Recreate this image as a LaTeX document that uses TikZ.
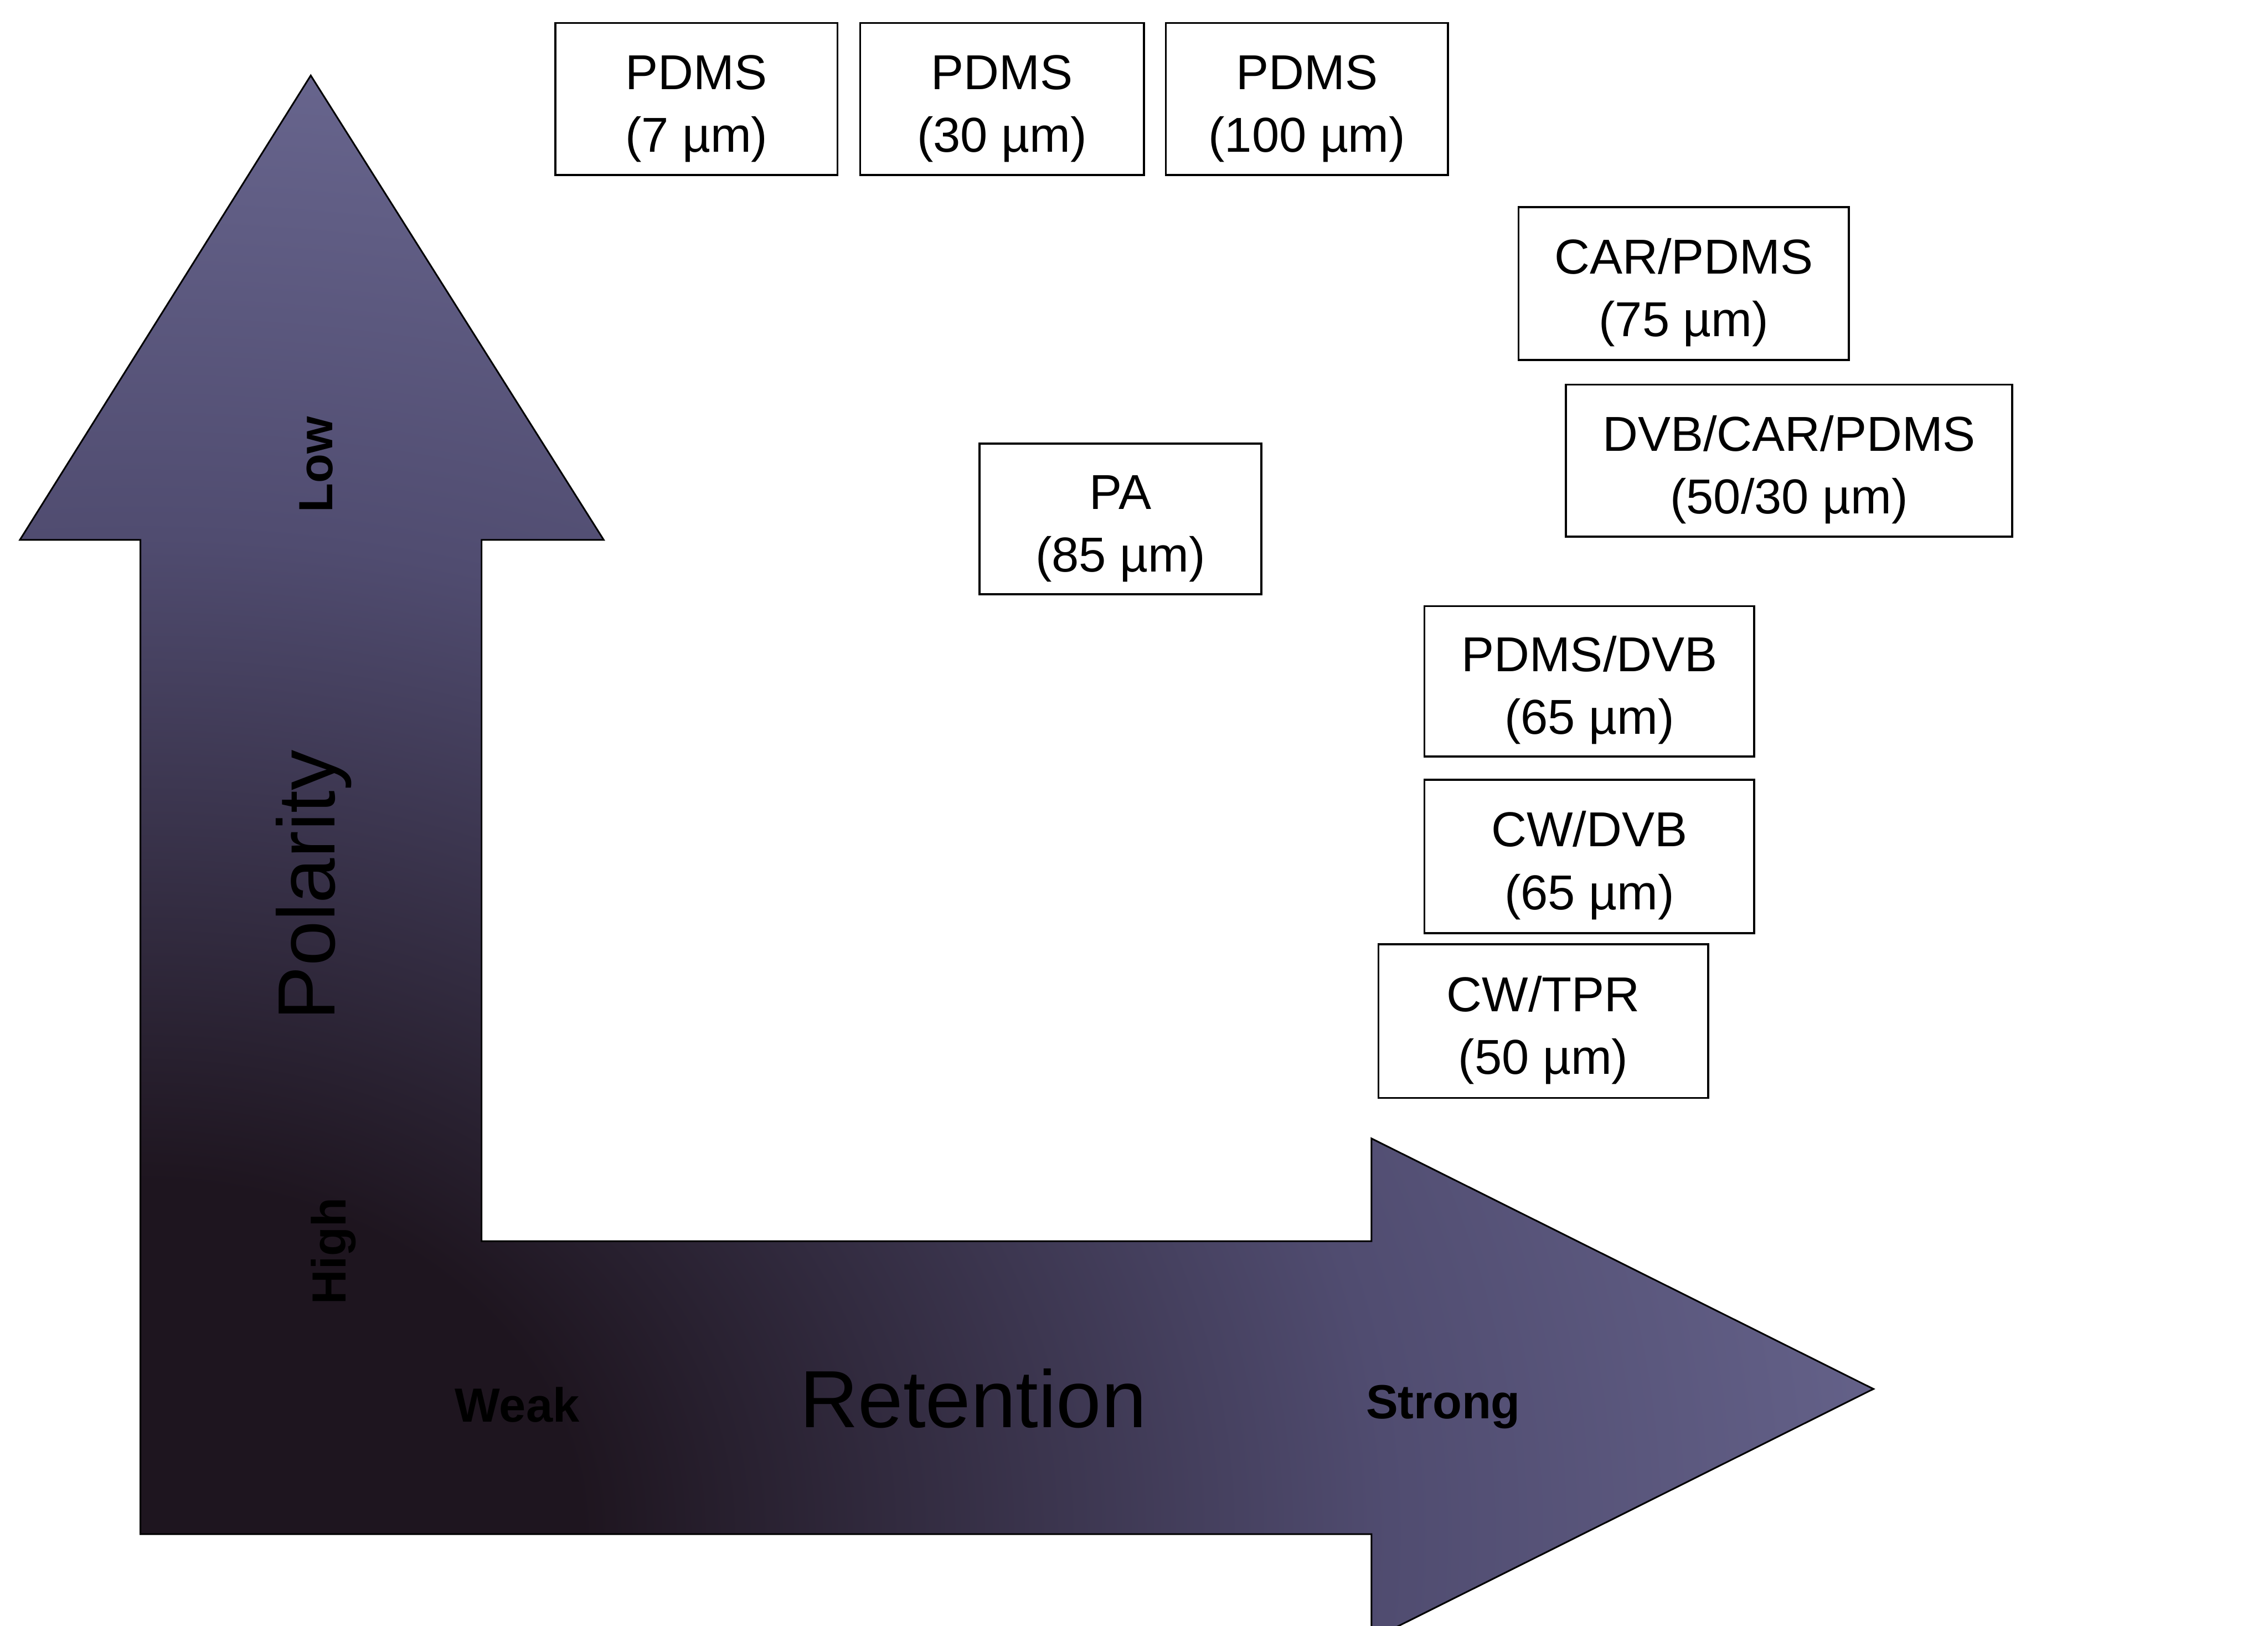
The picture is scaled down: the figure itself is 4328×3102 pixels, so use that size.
\documentclass[tikz,border=0pt]{standalone}
\usepackage{fontspec}
\setmainfont{Liberation Sans}
\definecolor{alight}{RGB}{112,110,152}
\definecolor{amid}{RGB}{80,76,112}
\definecolor{adark}{RGB}{30,21,31}
\pgfdeclareradialshading{polshade}{\pgfpoint{0bp}{0bp}}{color(0bp)=(adark); color(6bp)=(adark); color(17bp)=(amid); color(28bp)=(alight); color(50bp)=(alight)}
\newcommand{\boxtxt}[2]{\rule{0pt}{29pt}#1\\#2}
\begin{document}
\begin{tikzpicture}[x=0.01cm,y=-0.01cm,
  box/.style={draw=black, line width=1.1pt, fill=white, align=center, inner sep=0pt,
    font=\fontsize{26.6pt}{34pt}\selectfont},
  axlbl/.style={font=\bfseries\fontsize{26pt}{30pt}\selectfont, inner sep=0pt},
  bigl/.style={font=\fontsize{44pt}{50pt}\selectfont, inner sep=0pt}]
\useasboundingbox (0,0) rectangle (4328,3102);
\clip (0,0) rectangle (4328,3102);
\fill[white] (0,0) rectangle (4328,3102);
\coordinate (corner) at (268,2927);
\begin{scope}
\clip (593,144) -- (1152,1030) -- (919,1030) -- (919,2368) -- (2617,2368) -- (2617,2172) -- (3575,2650) -- (2617,3128) -- (2617,2927) -- (268,2927) -- (268,1030) -- (38,1030) -- cycle;
\shade[shading=polshade] (corner) ellipse [x radius=35cm, y radius=28cm];
\end{scope}
\draw[line width=0.9pt, line join=miter] (593,144) -- (1152,1030) -- (919,1030) -- (919,2368) -- (2617,2368) -- (2617,2172) -- (3575,2650) -- (2617,3128) -- (2617,2927) -- (268,2927) -- (268,1030) -- (38,1030) -- cycle;

\node[axlbl, rotate=90, anchor=base] (low) at (635,886) {Low};
\node[bigl, rotate=90, anchor=base] (pol) at (639,1689) {Polarity};
\node[axlbl, rotate=90, anchor=base] (high) at (660,2387) {High};
\node[axlbl, anchor=base] (weak) at (987,2713) {Weak};
\node[bigl, anchor=base] (ret) at (1857,2723) {Retention};
\node[axlbl, anchor=base] (strong) at (2754,2707) {Strong};

\node[box, minimum width=5.38cm, minimum height=2.90cm] (p7) at (1329,189) {\boxtxt{PDMS}{(7 µm)}};
\node[box, minimum width=5.41cm, minimum height=2.90cm] (p30) at (1912,189) {\boxtxt{PDMS}{(30 µm)}};
\node[box, minimum width=5.38cm, minimum height=2.90cm] (p100) at (2494,189) {\boxtxt{PDMS}{(100 µm)}};
\node[box, minimum width=6.30cm, minimum height=2.92cm] (carp) at (3213,541) {\boxtxt{CAR/PDMS}{(75 µm)}};
\node[box, minimum width=8.51cm, minimum height=2.90cm] (dcp) at (3414,879) {\boxtxt{DVB/CAR/PDMS}{(50/30 µm)}};
\node[box, minimum width=5.38cm, minimum height=2.87cm] (pa) at (2138,990) {\boxtxt{PA}{(85 µm)}};
\node[box, minimum width=6.29cm, minimum height=2.87cm] (pdvb) at (3033,1300) {\boxtxt{PDMS/DVB}{(65 µm)}};
\node[box, minimum width=6.29cm, minimum height=2.92cm] (cwdvb) at (3033,1634) {\boxtxt{CW/DVB}{(65 µm)}};
\node[box, minimum width=6.29cm, minimum height=2.93cm] (cwtpr) at (2945,1948) {\boxtxt{CW/TPR}{(50 µm)}};
\end{tikzpicture}
\end{document}
